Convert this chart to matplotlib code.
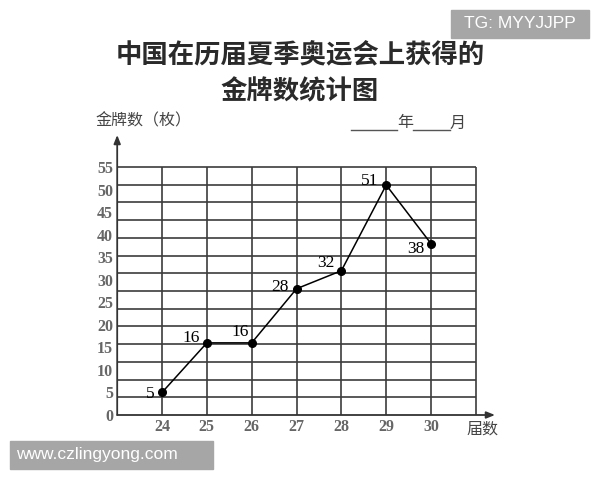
import numpy as np
import matplotlib
matplotlib.use("Agg")
import matplotlib.pyplot as plt
from matplotlib.lines import Line2D
from matplotlib.patches import Rectangle

# ----- data -----
sessions = [24, 25, 26, 27, 28, 29, 30]
golds = [5, 16, 16, 28, 32, 51, 38]
y_labels = list(range(0, 60, 5))
# label offsets (pixels) of each value label from its point
label_dx = [-12, -16, -12, -17, -15, -17, -15]
label_dy = [-2, 5, 11, 2, 8, 4, -5]

cjk = ["Noto Sans CJK SC", "DejaVu Sans"]
serif = ["Liberation Serif", "DejaVu Serif"]
W, H = 600, 480

fig = plt.figure(figsize=(6, 4.8), dpi=100)
fig.patch.set_facecolor("white")

def px(x, y):
    return x / W, 1 - y / H

# axes box in pixels: x 117..495, y 135..415
x_left, x_right, y_top, y_bot = 117.2, 495, 135, 415
ax = fig.add_axes([x_left / W, 1 - y_bot / H, (x_right - x_left) / W, (y_bot - y_top) / H])
xpu = (431 - 162) / 6.0
ypu = (415 - 167) / 55.0
ax.set_xlim(23, 23 + (x_right - x_left) / xpu)
ax.set_ylim(0, (y_bot - y_top) / ypu)
for s in ax.spines.values():
    s.set_visible(False)

grid_c = "#3c3c3c"
# grid: 14 horizontal intervals over 0..55, vertical lines at 24..31
for yv in np.linspace(0, 55, 15)[1:]:
    ax.plot([23, 31], [yv, yv], color=grid_c, lw=1.2, solid_capstyle="butt", zorder=1)
for xv in range(24, 32):
    ax.plot([xv, xv], [0, 55], color=grid_c, lw=1.2, solid_capstyle="butt", zorder=1)

# axes with arrows
arrow = dict(arrowstyle="-|>,head_length=0.5,head_width=0.2", color="#333333", lw=1.3,
             shrinkA=0, shrinkB=0)
ax.annotate("", xy=(ax.get_xlim()[1], 0), xytext=(23, 0), annotation_clip=False, arrowprops=arrow)
ax.annotate("", xy=(23, ax.get_ylim()[1]), xytext=(23, 0), annotation_clip=False, arrowprops=arrow)

ax.set_xticks(sessions)
ax.set_xticklabels([str(s) for s in sessions], fontfamily=serif, fontsize=11.5,
                   fontweight="bold", color="#666666")
ax.set_yticks(y_labels)
ax.set_yticklabels([str(v) for v in y_labels], fontfamily=serif, fontsize=11.5,
                   fontweight="bold", color="#666666")
ax.tick_params(length=0, pad=3)

ax.plot(sessions, golds, color="black", lw=1.1, marker="o", markersize=5.5, zorder=3, clip_on=False)
for s, g, dx, dy in zip(sessions, golds, label_dx, label_dy):
    ax.annotate(str(g), xy=(s, g), xytext=(dx, dy), textcoords="offset pixels",
                ha="center", va="center", fontfamily=serif, fontsize=12.5, color="black")

ax.text(31.15, -1.2, "届数", ha="center", va="top", fontfamily=cjk, fontsize=11.5,
        color="#444444", transform=ax.transData)

# titles and labels
fig.text(*px(300, 55), "中国在历届夏季奥运会上获得的", ha="center", va="center",
         fontfamily=cjk, fontsize=19, fontweight="bold", color="#2a2a2a")
fig.text(*px(300, 92), "金牌数统计图", ha="center", va="center",
         fontfamily=cjk, fontsize=19, fontweight="bold", color="#2a2a2a")
fig.text(*px(95, 121), "金牌数（枚）", ha="left", va="center",
         fontfamily=cjk, fontsize=11.5, color="#444444")
fig.text(*px(405, 123), "年", ha="center", va="center", fontfamily=cjk, fontsize=11.5, color="#444444")
fig.text(*px(458, 123), "月", ha="center", va="center", fontfamily=cjk, fontsize=11.5, color="#444444")
for xa, xb in [(351, 397), (413, 450)]:
    fig.add_artist(Line2D([xa / W, xb / W], [1 - 130 / H] * 2, color="#555555", lw=1.0))

# watermarks
fig.add_artist(Rectangle(px(451, 38), 138 / W, 28 / H, color="#a6a6a6", zorder=5))
fig.text(*px(520, 24), "TG: MYYJJPP", ha="center", va="center", fontfamily="Liberation Sans",
         fontsize=12.5, color="white", zorder=6)
fig.add_artist(Rectangle(px(10, 469), 203 / W, 28 / H, color="#a6a6a6", zorder=5))
fig.text(*px(16, 455), "www.czlingyong.com", ha="left", va="center", fontfamily="Liberation Sans",
         fontsize=12.5, color="white", zorder=6)

fig.savefig("out.png", dpi=100)
